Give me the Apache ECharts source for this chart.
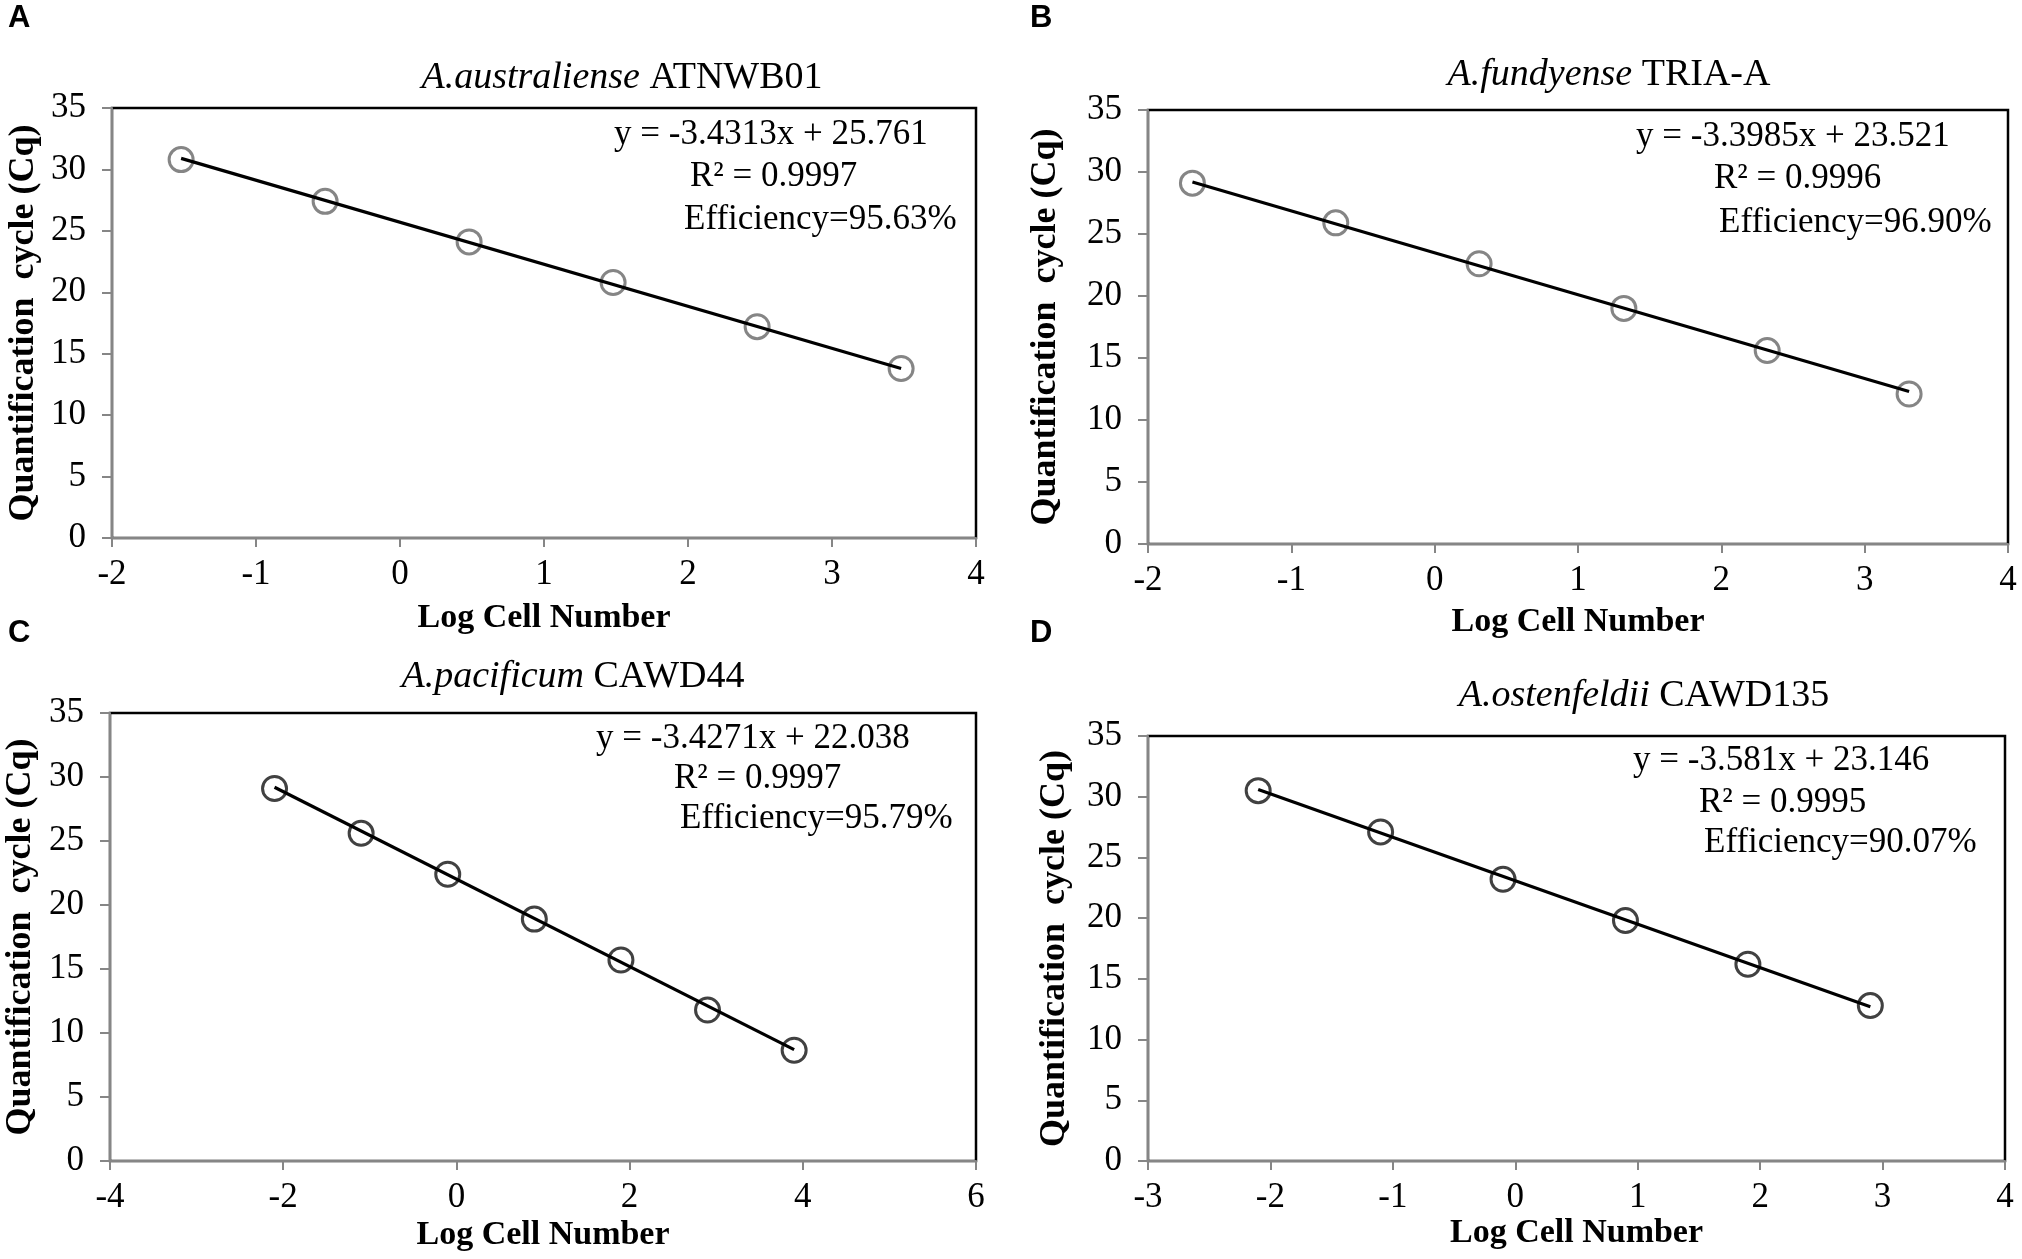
<!DOCTYPE html>
<html>
<head>
<meta charset="utf-8">
<script src="https://cdn.jsdelivr.net/npm/echarts@6/dist/echarts.min.js"></script>
<style>
  html, body { margin: 0; padding: 0; background: #fff; }
  #chart { width: 2022px; height: 1259px; }
</style>
</head>
<body>
<div id="chart"></div>
<script>
// data
var logA = [-1.52, -0.52, 0.48, 1.48, 2.48, 3.48];
var cqA  = [30.8, 27.4, 24.1, 20.8, 17.2, 13.8];
var fitA = [[-1.52, 30.9], [3.48, 13.8]];

var logB = [-1.69, -0.69, 0.31, 1.32, 2.32, 3.31];
var cqB  = [29.1, 25.9, 22.6, 19.0, 15.6, 12.1];
var fitB = [[-1.69, 29.2], [3.31, 12.3]];

var logC = [-2.1, -1.1, -0.1, 0.9, 1.9, 2.9, 3.9];
var cqC  = [29.1, 25.6, 22.4, 18.9, 15.7, 11.8, 8.65];
var fitC = [[-2.1, 29.2], [3.9, 8.7]];

var logD = [-2.1, -1.1, -0.1, 0.9, 1.9, 2.9];
var cqD  = [30.5, 27.1, 23.2, 19.8, 16.2, 12.8];
var fitD = [[-2.1, 30.6], [2.9, 12.7]];

var species = ['A.australiense', 'A.fundyense', 'A.pacificum', 'A.ostenfeldii'];
var strains = ['ATNWB01', 'TRIA-A', 'CAWD44', 'CAWD135'];
var equations = ['y = -3.4313x + 25.761', 'y = -3.3985x + 23.521', 'y = -3.4271x + 22.038', 'y = -3.581x + 23.146'];
var r2 = ['R\u00b2 = 0.9997', 'R\u00b2 = 0.9996', 'R\u00b2 = 0.9997', 'R\u00b2 = 0.9995'];
var efficiency = ['Efficiency=95.63%', 'Efficiency=96.90%', 'Efficiency=95.79%', 'Efficiency=90.07%'];
var panelLetters = ['A', 'B', 'C', 'D'];

var xMins = [-2, -2, -4, -3];
var xMaxs = [4, 4, 6, 4];
var xSteps = [1, 1, 2, 1];

var points = [logA.map(function (v, i) { return [v, cqA[i]]; }),
              logB.map(function (v, i) { return [v, cqB[i]]; }),
              logC.map(function (v, i) { return [v, cqC[i]]; }),
              logD.map(function (v, i) { return [v, cqD[i]]; })];
var fits = [fitA, fitB, fitC, fitD];

// layout (px)
var grids = [
  { left: 112,  top: 108, width: 864, height: 430 },
  { left: 1148, top: 110, width: 860, height: 434 },
  { left: 110,  top: 713, width: 866, height: 448 },
  { left: 1148, top: 736, width: 857, height: 425 }
];
var yNameGap = [70, 84, 71, 75];
var xNameGap = [63, 61, 57, 55];
var markerColor = ['#666', '#666', '#111', '#111'];
var titlePos = [[622, 78], [1609, 75], [573, 677], [1644, 696]];
var letterPos = [[8, 3], [1030, 3], [8, 618], [1030, 618]];
var eqPos = [
  [[614, 135], [690, 177], [684, 220]],
  [[1636, 137], [1714, 179], [1719, 223]],
  [[596, 739], [674, 779], [680, 819]],
  [[1633, 761], [1699, 803], [1704, 843]]
];

var serif = 'Liberation Serif';
var axisGray = '#868686';

var xAxes = [], yAxes = [], series = [], graphics = [];
grids.forEach(function (g, i) {
  g.show = true;
  g.borderColor = '#000';
  g.borderWidth = 2.5;
  g.backgroundColor = 'transparent';

  xAxes.push({
    type: 'value', gridIndex: i,
    min: xMins[i], max: xMaxs[i], interval: xSteps[i],
    name: 'Log Cell Number', nameLocation: 'middle', nameGap: xNameGap[i],
    nameTextStyle: { fontFamily: serif, fontWeight: 'bold', fontSize: 34, color: '#000' },
    axisLine: { onZero: false, lineStyle: { color: axisGray, width: 2 } },
    axisTick: { show: true, length: 9, lineStyle: { color: axisGray, width: 2 } },
    splitLine: { show: false },
    axisLabel: { fontFamily: serif, fontSize: 35, color: '#000', margin: 19 }
  });
  yAxes.push({
    type: 'value', gridIndex: i,
    min: 0, max: 35, interval: 5,
    name: 'Quantification  cycle (Cq)', nameLocation: 'middle', nameGap: yNameGap[i],
    nameTextStyle: { fontFamily: serif, fontWeight: 'bold', fontSize: 36, color: '#000' },
    axisLine: { onZero: false, lineStyle: { color: axisGray, width: 2 } },
    axisTick: { show: true, length: 10, lineStyle: { color: axisGray, width: 2 } },
    splitLine: { show: false },
    axisLabel: { fontFamily: serif, fontSize: 35, color: '#000', margin: 26 }
  });

  series.push({
    type: 'scatter', xAxisIndex: i, yAxisIndex: i,
    data: points[i], symbol: 'circle', symbolSize: 24,
    itemStyle: { color: 'transparent', borderColor: markerColor[i], borderWidth: 3 },
    z: 3
  });
  series.push({
    type: 'line', xAxisIndex: i, yAxisIndex: i,
    data: fits[i], symbol: 'none',
    lineStyle: { color: '#000', width: 3.2 },
    z: 4
  });

  graphics.push({
    type: 'text', x: titlePos[i][0], y: titlePos[i][1],
    style: {
      text: '{i|' + species[i] + '} ' + strains[i],
      rich: { i: { fontStyle: 'italic', fontFamily: serif, fontSize: 38, fill: '#000' } },
      fontFamily: serif, fontSize: 38, fill: '#000',
      align: 'center', verticalAlign: 'middle', textAlign: 'center', textVerticalAlign: 'middle'
    }
  });
  graphics.push({
    type: 'text', x: letterPos[i][0], y: letterPos[i][1],
    style: {
      text: panelLetters[i], fontFamily: 'Liberation Sans', fontWeight: 'bold', fontSize: 31, fill: '#000',
      align: 'left', verticalAlign: 'top', textAlign: 'left', textVerticalAlign: 'top'
    }
  });
  [equations[i], r2[i], efficiency[i]].forEach(function (t, k) {
    graphics.push({
      type: 'text', x: eqPos[i][k][0], y: eqPos[i][k][1],
      style: {
        text: t, fontFamily: serif, fontSize: 35, fill: '#000',
        align: 'left', verticalAlign: 'middle', textAlign: 'left', textVerticalAlign: 'middle'
      }
    });
  });
});

var myChart = echarts.init(document.getElementById('chart'));
myChart.setOption({
  backgroundColor: '#fff',
  animation: false,
  grid: grids,
  xAxis: xAxes,
  yAxis: yAxes,
  series: series,
  graphic: graphics
});
</script>
</body>
</html>
